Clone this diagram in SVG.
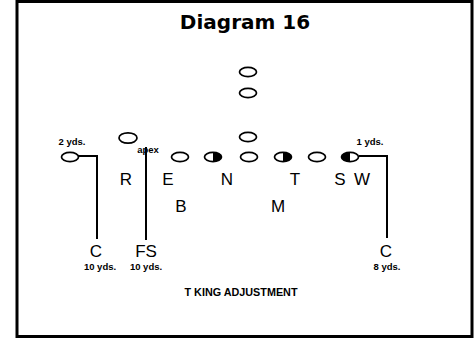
<svg xmlns="http://www.w3.org/2000/svg" xmlns:xlink="http://www.w3.org/1999/xlink" width="474" height="339" viewBox="0 0 474 339">
  <style>
    .frame { fill: #fff; stroke: #000; stroke-width: 3; }
    .title { font-family: "DejaVu Sans", Verdana, sans-serif; font-weight: bold; font-size: 20px; fill: #000; text-anchor: middle; }
    .pos { font-family: "Liberation Sans", Arial, sans-serif; font-size: 17px; fill: #000; text-anchor: middle; }
    .note { font-family: "Liberation Sans", Arial, sans-serif; font-weight: bold; font-size: 9.5px; fill: #000; text-anchor: middle; }
    .caption { font-family: "Liberation Sans", Arial, sans-serif; font-weight: bold; font-size: 10px; fill: #000; text-anchor: middle; }
    .man { fill: #fff; stroke: #000; stroke-width: 1.7; }
    .half { fill: #000; stroke: none; }
    .route { fill: none; stroke: #000; stroke-width: 2; }
  </style>
  <defs>
    <ellipse id="player" cx="0" cy="0" rx="8.5" ry="4.6" class="man"/>
    <path id="fillRight" class="half" d="M0,-4.6 A8.5,4.6 0 0 1 0,4.6 Z"/>
    <path id="fillLeft" class="half" d="M0,-4.6 A8.5,4.6 0 0 0 0,4.6 Z"/>
  </defs>

  <rect class="frame" x="17" y="1.5" width="455" height="335"/>
  <text class="title" x="245" y="29">Diagram 16</text>

  <g id="connectors">
    <path class="route" d="M78,156 H97 V239"/>
    <path class="route" d="M146,147 V240"/>
    <path class="route" d="M359,156 H387 V238"/>
  </g>

  <!-- offensive formation -->
  <g id="back-deep"><use xlink:href="#player" x="248" y="72"/></g>
  <g id="back-mid"><use xlink:href="#player" x="248" y="93"/></g>
  <g id="quarterback"><use xlink:href="#player" x="248" y="137"/></g>
  <g id="wide-left"><use xlink:href="#player" x="70" y="157"/></g>
  <g id="slot-left"><ellipse class="man" cx="128" cy="138" rx="9" ry="5.2"/></g>
  <g id="line-e"><use xlink:href="#player" x="180" y="157"/></g>
  <g id="line-n"><use xlink:href="#player" x="213" y="157"/><use xlink:href="#fillRight" x="213" y="157"/></g>
  <g id="center"><use xlink:href="#player" x="249" y="157"/></g>
  <g id="line-t"><use xlink:href="#player" x="283" y="157"/><use xlink:href="#fillRight" x="283" y="157"/></g>
  <g id="line-s"><use xlink:href="#player" x="317" y="157"/></g>
  <g id="line-w"><use xlink:href="#player" x="350" y="157"/><use xlink:href="#fillLeft" x="350" y="157"/></g>

  <!-- defensive labels -->
  <g id="def-r"><text class="pos" x="126" y="185">R</text></g>
  <g id="def-e"><text class="pos" x="168" y="185">E</text></g>
  <g id="def-n"><text class="pos" x="227" y="185">N</text></g>
  <g id="def-t"><text class="pos" x="295" y="185">T</text></g>
  <g id="def-s"><text class="pos" x="340" y="185">S</text></g>
  <g id="def-w"><text class="pos" x="362" y="185">W</text></g>
  <g id="def-b"><text class="pos" x="181" y="212">B</text></g>
  <g id="def-m"><text class="pos" x="278" y="212">M</text></g>
  <g id="def-c-left"><text class="pos" x="96" y="257">C</text><text class="note" x="100" y="270">10 yds.</text></g>
  <g id="def-fs"><text class="pos" x="146" y="257">FS</text><text class="note" x="146" y="270">10 yds.</text></g>
  <g id="def-c-right"><text class="pos" x="386" y="257">C</text><text class="note" x="387" y="270">8 yds.</text></g>

  <!-- spacing notes -->
  <text class="note" x="72" y="145">2 yds.</text>
  <text class="note" x="148" y="153">apex</text>
  <text class="note" x="370" y="145">1 yds.</text>

  <text class="caption" x="241" y="296" textLength="113" lengthAdjust="spacingAndGlyphs">T KING ADJUSTMENT</text>
</svg>
